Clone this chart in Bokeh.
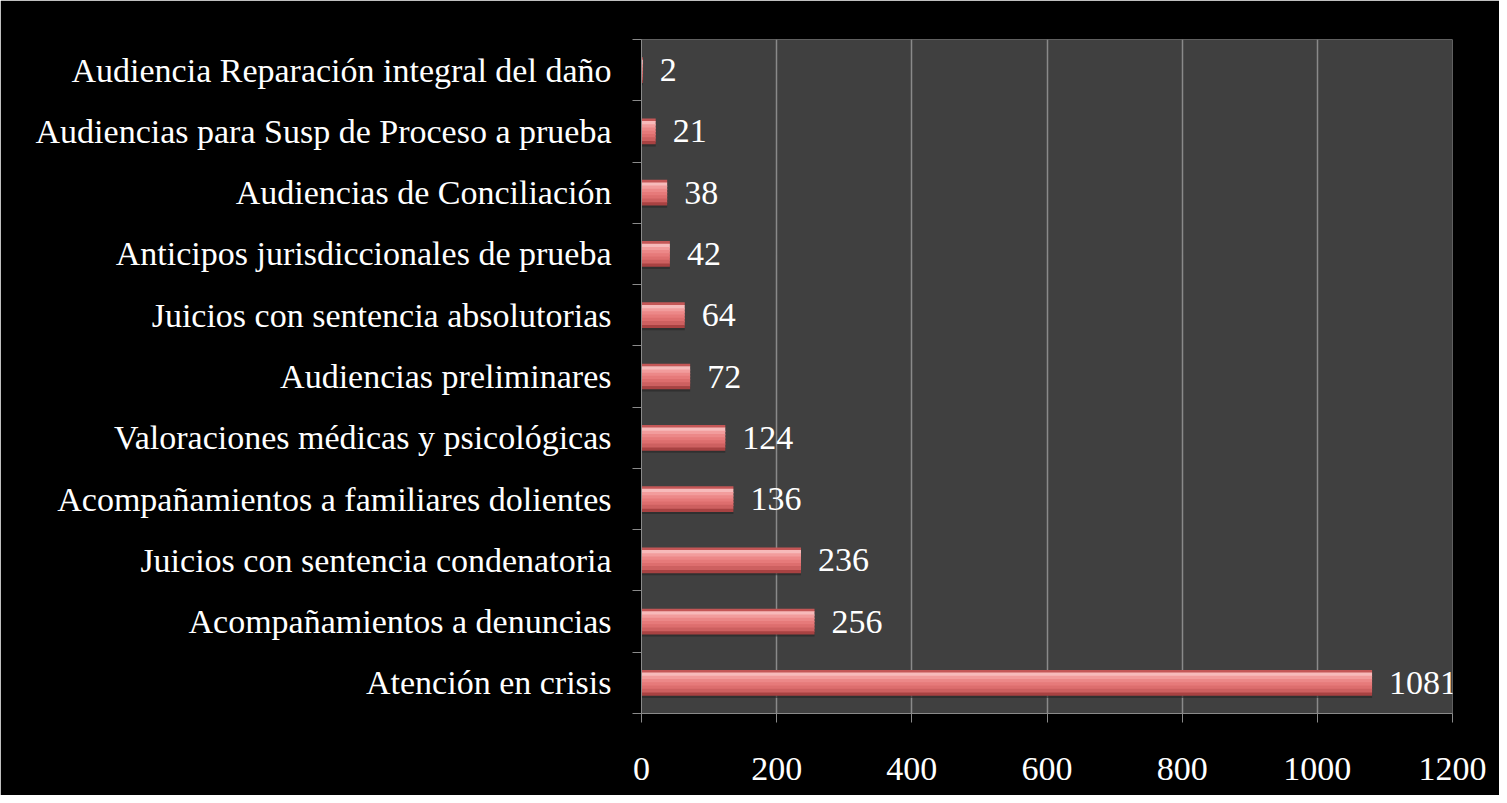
from bokeh.plotting import figure
from bokeh.models import Range1d, FixedTicker, ColumnDataSource
from bokeh.transform import dodge
from bokeh.core.properties import value
from bokeh.embed import file_html
from bokeh.resources import INLINE

categories = [
    "Atención en crisis",
    "Acompañamientos a denuncias",
    "Juicios con sentencia condenatoria",
    "Acompañamientos a familiares dolientes",
    "Valoraciones médicas y psicológicas",
    "Audiencias preliminares",
    "Juicios con sentencia absolutorias",
    "Anticipos jurisdiccionales de prueba",
    "Audiencias de Conciliación",
    "Audiencias para Susp de Proceso a prueba",
    "Audiencia Reparación integral del daño",
]
values = [1081, 256, 236, 136, 124, 72, 64, 42, 38, 21, 2]
x_ticks = [0, 200, 400, 600, 800, 1000, 1200]

FONT = "Liberation Serif"
n = len(categories)
ypos = list(range(n))
src = ColumnDataSource(dict(y=ypos, v=values, lab=[str(v) for v in values]))

p = figure(width=1499, height=795, x_range=Range1d(0, 1200), y_range=Range1d(-0.5, n - 0.5),
           output_backend="svg", toolbar_location=None,
           min_border_left=641, min_border_right=47, min_border_top=39, min_border_bottom=82,
           background_fill_color="#404040", border_fill_color="black", outline_line_color=None)

# bar with bevel-like vertical gradient stripes
bar_h = 0.42
stripe_colors = ["#c45656", "#f7baba", "#f29c9c", "#ec8888", "#e67a7a", "#dd6e6e", "#cd6060", "#a84242"]
ns = len(stripe_colors)
sh = bar_h / ns
# soft shadow
p.hbar(y=dodge("y", -0.035, range=p.y_range), left=0, right="v", height=bar_h, source=src,
       fill_color="#262626", fill_alpha=0.6, line_color=None)
for i, c in enumerate(stripe_colors):
    off = bar_h / 2 - sh * (i + 0.5)
    hh = sh if i in (0, ns - 1) else sh * 1.4
    p.hbar(y=dodge("y", off, range=p.y_range), left=0, right="v", height=hh, source=src,
           fill_color=c, line_color=None)

p.text(x="v", y="y", text="lab", source=src, x_offset=17, text_baseline="middle",
       text_align="left", text_color="white", text_font=value(FONT), text_font_size="34px")

# x axis
xa = p.xaxis[0]
xa.ticker = FixedTicker(ticks=x_ticks)
xa.axis_line_color = "#8a8a8a"
xa.major_tick_line_color = "#8a8a8a"
xa.major_tick_out = 9
xa.major_tick_in = 0
xa.minor_tick_line_color = None
xa.major_label_text_color = "white"
xa.major_label_text_font = FONT
xa.major_label_text_font_size = "34px"
xa.major_label_standoff = 35

# y axis
ya = p.yaxis[0]
ya.ticker = FixedTicker(ticks=ypos, minor_ticks=[i - 0.5 for i in range(n + 1)])
ya.major_label_overrides = {i: c for i, c in enumerate(categories)}
ya.axis_line_color = "#8a8a8a"
ya.major_tick_line_color = None
ya.major_tick_out = 0
ya.major_tick_in = 0
ya.minor_tick_line_color = "#8a8a8a"
ya.minor_tick_out = 9
ya.minor_tick_in = 0
ya.major_label_text_color = "white"
ya.major_label_text_font = FONT
ya.major_label_text_font_size = "34px"
ya.major_label_standoff = 21

p.xgrid.ticker = FixedTicker(ticks=x_ticks)
p.xgrid.grid_line_color = "#8a8a8a"
p.xgrid.grid_line_width = 1.5
p.ygrid.grid_line_color = None

open("out.html", "w").write(file_html(p, INLINE))
